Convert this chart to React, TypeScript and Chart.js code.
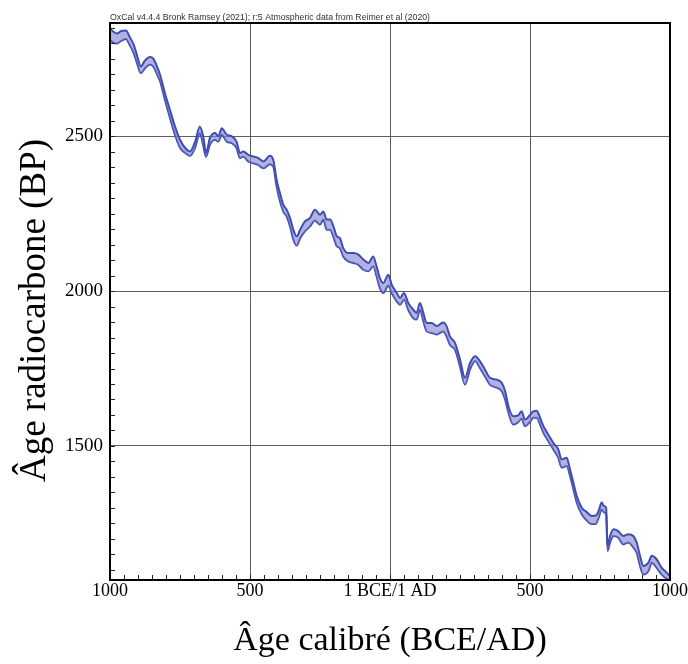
import React, { useEffect, useRef } from 'react';
import { Chart, registerables } from 'chart.js';

Chart.register(...registerables);

// Calendar years (negative = BCE, positive = AD)
const calYears = [
  -1000, -988, -975, -960, -943, -930, -915, -903, -890, -875, -857, -845, -832, -821, -804, -786, -768, -750,
  -732, -714, -696, -679, -667, -657, -643, -625, -613, -601, -583, -565, -548, -536, -524, -506, -488, -471,
  -452, -429, -417, -405, -393, -381, -369, -357, -345, -333, -321, -304, -286, -268, -250, -238, -226, -214,
  -202, -190, -179, -167, -149, -131, -113, -95, -77, -60, -48, -36, -24, -6, 6, 24, 36, 50, 65, 83, 95, 107,
  119, 131, 149, 167, 190, 202, 214, 232, 250, 268, 286, 304, 321, 339, 357, 381, 399, 411, 423, 440, 458,
  470, 482, 500, 512, 524, 536, 548, 565, 583, 601, 613, 631, 643, 655, 667, 685, 702, 720, 735, 745, 756,
  764, 772, 777, 786, 798, 815, 833, 851, 869, 881, 893, 905, 923, 935, 952, 970, 982, 994, 1000,
];

// Upper edge of the calibration band (BP)
const bpUpper = [
  2848, 2838, 2832, 2840, 2842, 2822, 2795, 2760, 2726, 2745, 2756, 2750, 2725, 2698, 2640, 2586, 2532, 2489,
  2463, 2451, 2483, 2531, 2500, 2446, 2495, 2511, 2500, 2526, 2505, 2500, 2483, 2446, 2451, 2440, 2435, 2430,
  2419, 2437, 2424, 2360, 2317, 2279, 2263, 2236, 2198, 2177, 2198, 2225, 2236, 2263, 2247, 2257, 2231, 2231,
  2209, 2177, 2171, 2139, 2123, 2123, 2118, 2102, 2091, 2112, 2080, 2042, 2026, 2053, 2021, 1994, 1978, 1994,
  1962, 1940, 1930, 1962, 1930, 1897, 1897, 1887, 1899, 1887, 1854, 1833, 1779, 1720, 1768, 1790, 1774, 1747,
  1720, 1714, 1704, 1677, 1628, 1596, 1599, 1612, 1585, 1600, 1612, 1614, 1591, 1564, 1537, 1510, 1489, 1456,
  1462, 1424, 1381, 1338, 1300, 1287, 1274, 1275, 1290, 1317, 1306, 1300, 1178, 1209, 1231, 1225, 1209, 1215,
  1209, 1188, 1145, 1112, 1123, 1145, 1134, 1107, 1096, 1085, 1080,
];

// Lower edge of the calibration band (BP)
const bpLower = [
  2812, 2803, 2800, 2808, 2814, 2795, 2768, 2735, 2704, 2720, 2732, 2725, 2700, 2677, 2618, 2560, 2505, 2463,
  2447, 2437, 2463, 2510, 2470, 2434, 2473, 2489, 2483, 2505, 2483, 2478, 2462, 2430, 2435, 2419, 2413, 2408,
  2397, 2410, 2403, 2338, 2290, 2257, 2241, 2209, 2166, 2147, 2171, 2193, 2209, 2228, 2215, 2231, 2198, 2198,
  2175, 2145, 2139, 2112, 2096, 2091, 2085, 2069, 2064, 2080, 2048, 2010, 1994, 2018, 1994, 1967, 1956, 1973,
  1940, 1913, 1908, 1940, 1903, 1870, 1865, 1860, 1870, 1854, 1827, 1811, 1757, 1698, 1747, 1774, 1752, 1725,
  1698, 1688, 1677, 1650, 1607, 1569, 1577, 1588, 1564, 1578, 1591, 1591, 1569, 1542, 1516, 1489, 1462, 1430,
  1435, 1403, 1360, 1317, 1279, 1260, 1248, 1248, 1268, 1295, 1286, 1278, 1161, 1188, 1209, 1204, 1182, 1188,
  1172, 1155, 1112, 1085, 1096, 1123, 1107, 1085, 1075, 1069, 1067,
];

const xTickValues = [-1000, -500, 0, 500, 1000];
const xTickLabels = ['1000', '500', '1 BCE/1 AD', '500', '1000'];
const yTickValues = [1500, 2000, 2500];
const xMin = -1000;
const xMax = 1000;
const yMin = 1067;
const yMax = 2866;
const minorStep = 50;

const headerText = 'OxCal v4.4.4 Bronk Ramsey (2021); r:5 Atmospheric data from Reimer et al (2020)';
const xTitle = 'Âge calibré (BCE/AD)';
const yTitle = 'Âge radiocarbone (BP)';

const lineColor = '#3f4db0';
const bandFill = 'rgba(128, 128, 205, 0.6)';
const serif = '"Liberation Serif", "Times New Roman", serif';

const framePlugin = {
  id: 'oxcalFrame',
  afterDraw(chart: any) {
    const { ctx, chartArea, scales } = chart;
    const { left, right, top, bottom } = chartArea;
    const xs = scales.x;
    const ys = scales.y;
    ctx.save();
    ctx.strokeStyle = '#222';
    ctx.lineWidth = 1;
    for (let v = xMin + minorStep; v < xMax; v += minorStep) {
      const px = Math.round(xs.getPixelForValue(v)) + 0.5;
      ctx.beginPath();
      ctx.moveTo(px, bottom);
      ctx.lineTo(px, bottom - 5);
      ctx.stroke();
    }
    const firstY = Math.ceil(yMin / minorStep) * minorStep;
    for (let v = firstY; v < yMax; v += minorStep) {
      const py = Math.round(ys.getPixelForValue(v)) + 0.5;
      ctx.beginPath();
      ctx.moveTo(left, py);
      ctx.lineTo(left + 5, py);
      ctx.stroke();
    }
    ctx.strokeStyle = '#000';
    ctx.lineWidth = 2;
    ctx.strokeRect(left, top, right - left, bottom - top);
    ctx.font = '9px "Liberation Sans", Arial, sans-serif';
    ctx.fillStyle = '#333';
    ctx.textAlign = 'left';
    ctx.textBaseline = 'alphabetic';
    ctx.fillText(headerText, left, top - 3, 320);

    // vertical axis title
    ctx.translate(35, (top + bottom) / 2 + 9);
    ctx.rotate(-Math.PI / 2);
    ctx.font = '37px ' + serif;
    ctx.fillStyle = '#000';
    ctx.textAlign = 'center';
    ctx.textBaseline = 'middle';
    ctx.fillText(yTitle, 0, 0);
    ctx.restore();
  },
};

export default function App() {
  const canvasRef = useRef<HTMLCanvasElement | null>(null);

  useEffect(() => {
    const canvas = canvasRef.current;
    if (!canvas) return;
    const upperPts = calYears.map((x, i) => ({ x, y: bpUpper[i] }));
    const lowerPts = calYears.map((x, i) => ({ x, y: bpLower[i] }));
    const chart = new Chart(canvas, {
      type: 'line',
      data: {
        datasets: [
          {
            data: upperPts,
            borderColor: lineColor,
            borderWidth: 2,
            backgroundColor: bandFill,
            fill: '+1',
            pointRadius: 0,
            cubicInterpolationMode: 'monotone',
          },
          {
            data: lowerPts,
            borderColor: lineColor,
            borderWidth: 2,
            backgroundColor: bandFill,
            fill: false,
            pointRadius: 0,
            cubicInterpolationMode: 'monotone',
          },
        ],
      },
      options: {
        animation: false,
        responsive: false,
        devicePixelRatio: 1,
        layout: { padding: { left: 0, top: 23, right: 0, bottom: 0 } },
        plugins: {
          legend: { display: false },
          tooltip: { enabled: false },
          title: { display: false },
        },
        scales: {
          x: {
            type: 'linear',
            min: xMin,
            max: xMax,
            afterBuildTicks: (s: any) => {
              s.ticks = xTickValues.map((v) => ({ value: v }));
            },
            afterFit: (s: any) => {
              s.height = 84;
            },
            ticks: {
              callback: (_v: any, i: number) => xTickLabels[i],
              font: { family: serif, size: 18 },
              color: '#000',
              padding: 0,
              maxRotation: 0,
              autoSkip: false,
            },
            grid: { color: '#5e5e5e', lineWidth: 1, drawTicks: false },
            border: { display: false },
            title: {
              display: true,
              text: xTitle,
              font: { family: serif, size: 34 },
              color: '#000',
              padding: { top: 0, bottom: 3 },
            },
          },
          y: {
            type: 'linear',
            min: yMin,
            max: yMax,
            afterBuildTicks: (s: any) => {
              s.ticks = yTickValues.map((v) => ({ value: v }));
            },
            afterFit: (s: any) => {
              s.width = 110;
            },
            ticks: {
              callback: (v: any) => String(v),
              font: { family: serif, size: 19 },
              color: '#000',
              padding: 7,
              autoSkip: false,
            },
            grid: { color: '#5e5e5e', lineWidth: 1, drawTicks: false },
            border: { display: false },
            title: { display: false },
          },
        },
      },
      plugins: [framePlugin],
    });
    return () => chart.destroy();
  }, []);

  return (
    <div style={{ position: 'fixed', left: 0, top: 0, width: 688, height: 664, background: '#fff' }}>
      <canvas ref={canvasRef} width={688} height={664} style={{ width: 688, height: 664 }} />
    </div>
  );
}
